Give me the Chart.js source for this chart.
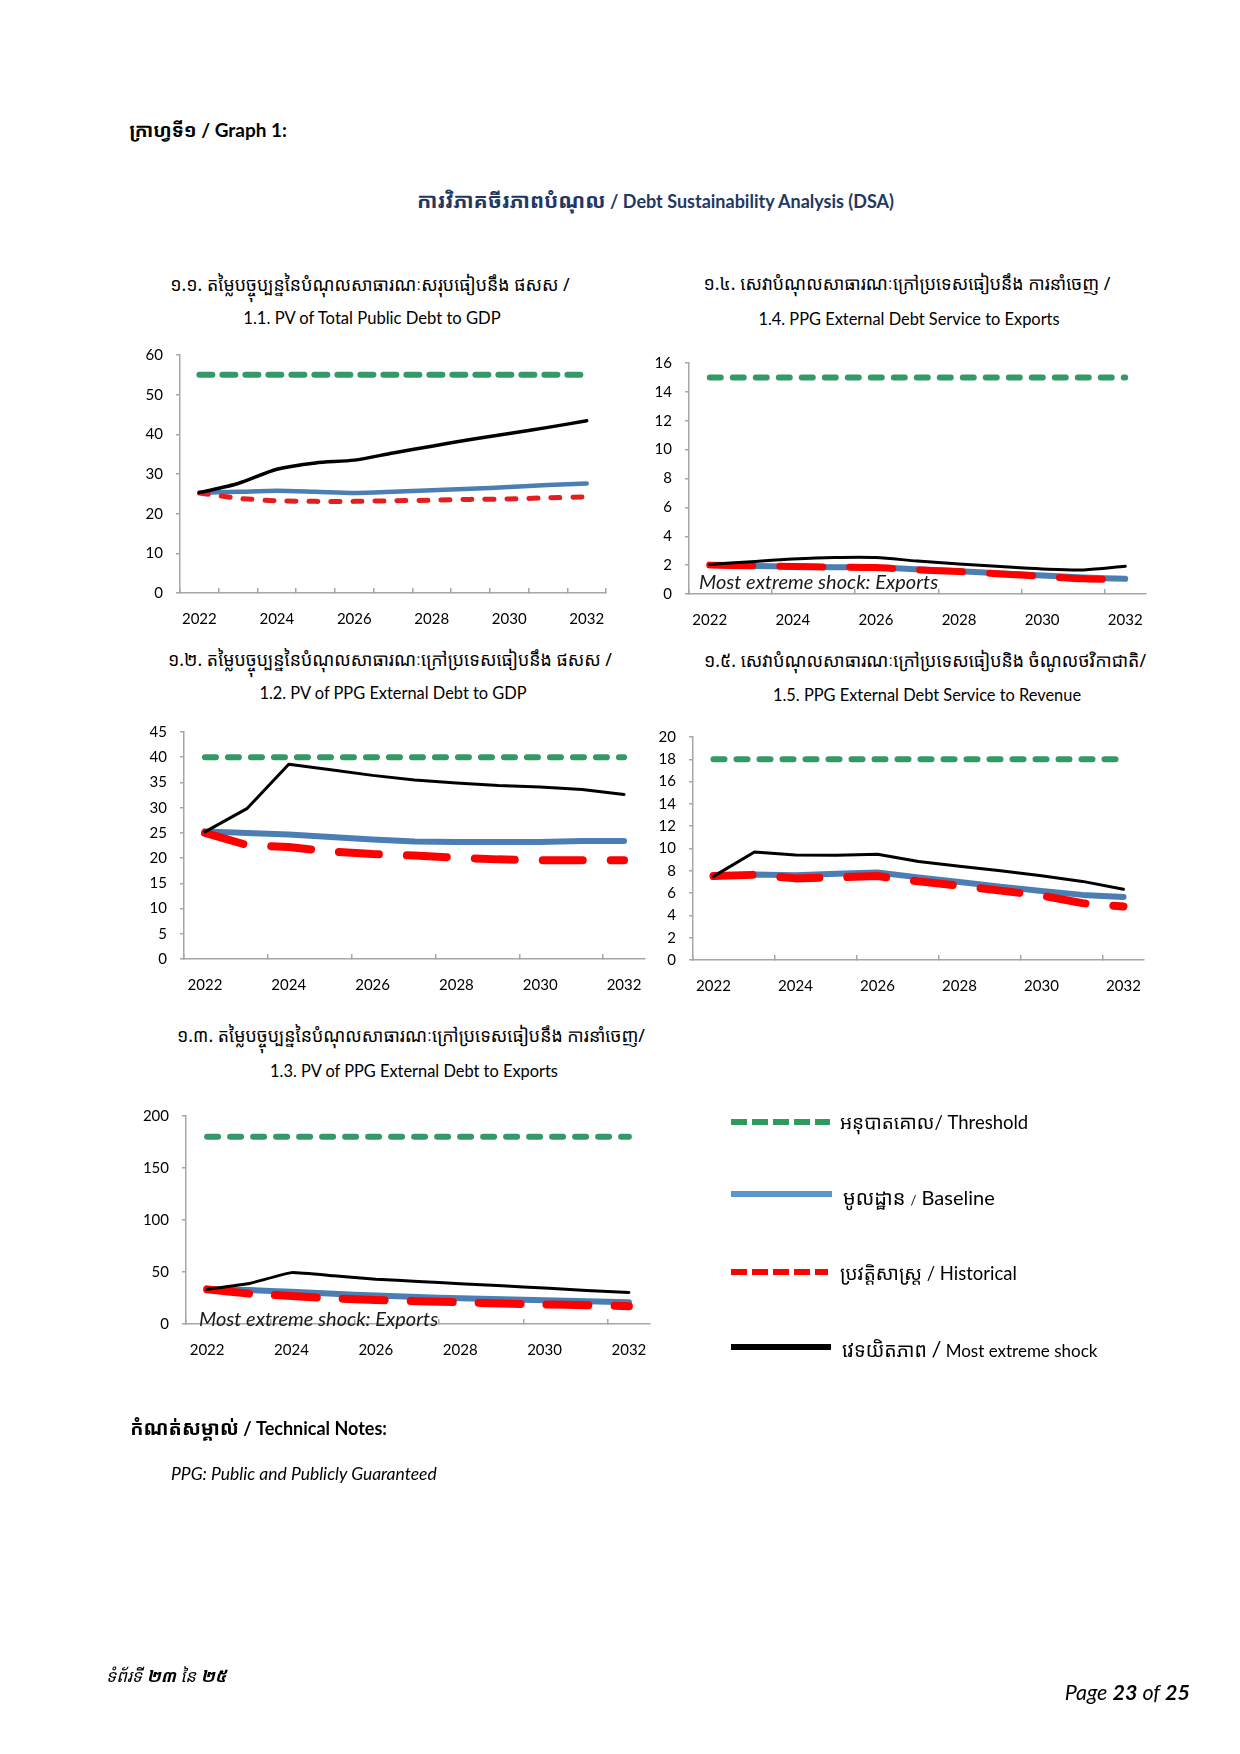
<!DOCTYPE html>
<html><head><meta charset="utf-8">
<script src="https://cdn.jsdelivr.net/npm/chart.js@4.4.1/dist/chart.umd.min.js"></script>
<style>
body{margin:0;background:#fff;}
#page{position:relative;width:1240px;height:1754px;background:#fff;font-family:Lato,'Noto Sans',sans-serif;color:#000;overflow:hidden;}
.t{position:absolute;white-space:nowrap;line-height:1.2;}
.c{transform:translate(-50%,-50%);}
.l{transform:translateY(-50%);}
canvas{position:absolute;}
.ann{position:absolute;white-space:nowrap;font-style:italic;font-size:20px;color:#1a1a1a;transform:translateY(-50%);z-index:5;line-height:1.2;}
.km{font-family:'Noto Sans Khmer','Khmer OS','Noto Sans',Lato,sans-serif;}
svg{position:absolute;overflow:visible;}
</style></head><body><div id="page">

<div class="t l" style="right:953px;top:130px;font-weight:bold;font-size:19px;"><span class="km">ក្រាហ្វទី១</span> / Graph 1:</div>
<div class="t l" style="right:346px;top:201px;font-weight:bold;font-size:18px;color:#1f3864;"><span class="km" style="font-size:21px;">ការវិភាគចីរភាពបំណុល</span> / Debt Sustainability Analysis (DSA)</div>

<div class="t c km" style="left:370px;top:285px;font-size:17.8px;">១.១. តម្លៃបច្ចុប្បន្ននៃបំណុលសាធារណៈសរុបធៀបនឹង ផសស /</div>
<div class="t c" style="left:372px;top:319px;font-size:16.6px;">1.1. PV of Total Public Debt to GDP</div>

<div class="t c km" style="left:907px;top:284px;font-size:17.8px;">១.៤. សេវាបំណុលសាធារណៈក្រៅប្រទេសធៀបនឹង ការនាំចេញ /</div>
<div class="t c" style="left:909px;top:319px;font-size:16.4px;">1.4. PPG External Debt Service to Exports</div>

<div class="t c km" style="left:390px;top:660px;font-size:17.8px;">១.២. តម្លៃបច្ចុប្បន្ននៃបំណុលសាធារណៈក្រៅប្រទេសធៀបនឹង ផសស /</div>
<div class="t c" style="left:393px;top:693px;font-size:16.4px;">1.2. PV of PPG External Debt to GDP</div>

<div class="t c km" style="left:925px;top:661px;font-size:17.8px;">១.៥. សេវាបំណុលសាធារណៈក្រៅប្រទេសធៀបនិង ចំណូលថវិកាជាតិ/</div>
<div class="t c" style="left:927px;top:695px;font-size:16.4px;">1.5. PPG External Debt Service to Revenue</div>

<div class="t c km" style="left:411px;top:1036px;font-size:17.8px;">១.៣. តម្លៃបច្ចុប្បន្ននៃបំណុលសាធារណៈក្រៅប្រទេសធៀបនឹង ការនាំចេញ/</div>
<div class="t c" style="left:414px;top:1071px;font-size:16.4px;">1.3. PV of PPG External Debt to Exports</div>

<canvas id="c11"></canvas>
<canvas id="c14"></canvas>
<canvas id="c12"></canvas>
<canvas id="c15"></canvas>
<canvas id="c13"></canvas>

<div class="ann" style="left:699px;top:581px;">Most extreme shock: Exports</div>
<div class="ann" style="left:199px;top:1318px;">Most extreme shock: Exports</div>

<svg style="left:0;top:0;width:1240px;height:1754px;">
  <line x1="731" y1="1122" x2="830" y2="1122" stroke="#2e9a5e" stroke-width="6" stroke-dasharray="16 5"/>
  <line x1="731" y1="1194" x2="832" y2="1194" stroke="#5b96cf" stroke-width="6"/>
  <line x1="731" y1="1272" x2="828" y2="1272" stroke="#ff0000" stroke-width="6" stroke-dasharray="16 5"/>
  <line x1="731" y1="1347" x2="831" y2="1347" stroke="#000" stroke-width="6"/>
</svg>
<div class="t l" style="left:840px;top:1122px;font-size:18.5px;"><span class="km" style="font-size:19px;">អនុបាតគោល</span>/ Threshold</div>
<div class="t l" style="left:843px;top:1197px;font-size:20px;"><span class="km">មូលដ្ឋាន</span> <span style="font-size:13px;">/</span> Baseline</div>
<div class="t l" style="left:840px;top:1273px;font-size:18.5px;"><span class="km" style="font-size:19px;">ប្រវត្តិសាស្ត្រ</span> / Historical</div>
<div class="t l" style="left:842px;top:1349px;font-size:17px;"><span class="km" style="font-size:19.5px;">វេទយិតភាព</span> <span style="font-size:22px;">/</span> Most extreme shock</div>

<div class="t l" style="right:853px;top:1428px;font-weight:bold;font-size:18px;"><span class="km" style="font-size:19.5px;">កំណត់សម្គាល់</span> / Technical Notes:</div>
<div class="t l" style="left:171px;top:1473px;font-style:italic;font-size:17.5px;">PPG: Public and Publicly Guaranteed</div>

<div class="t l km" style="left:106px;top:1676px;font-style:italic;font-size:17px;">ទំព័រទី <b>២៣</b> នៃ <b>២៥</b></div>
<div class="t l" style="right:50px;top:1693px;font-style:italic;font-size:21.5px;">Page <b>23</b> of <b>25</b></div>

</div>
<script>
// ---------- data ----------
const years = ['2022','2023','2024','2025','2026','2027','2028','2029','2030','2031','2032'];

// 1.1 PV of Total Public Debt to GDP
const threshold11  = [55,55,55,55,55,55,55,55,55,55,55];
const baseline11   = [25.3,25.5,25.75,25.5,25.2,25.5,25.9,26.3,26.7,27.2,27.6];
const historical11 = [25.2,23.9,23.25,23.1,23.1,23.25,23.4,23.6,23.7,24.0,24.25];
const shock11      = [25.3,27.6,31.2,32.8,33.5,35.3,37.0,38.7,40.2,41.75,43.4];
const yTicks11 = {max:60, step:10};

// 1.4 PPG External Debt Service to Exports
const threshold14  = [15,15,15,15,15,15,15,15,15,15,15];
const baseline14   = [2.0,1.94,1.9,1.85,1.83,1.71,1.58,1.42,1.28,1.14,1.05];
const historical14 = [2.0,1.96,1.9,1.87,1.83,1.67,1.55,1.39,1.23,1.05,1.0];
const shock14      = [2.05,2.24,2.42,2.53,2.53,2.28,2.08,1.9,1.74,1.67,1.92];
const yTicks14 = {max:16, step:2};

// 1.2 PV of PPG External Debt to GDP
const threshold12  = [40,40,40,40,40,40,40,40,40,40,40];
const baseline12   = [25.3,25.0,24.7,24.2,23.7,23.3,23.2,23.2,23.2,23.4,23.4];
const historical12 = [25.0,22.6,22.2,21.3,20.8,20.5,20.1,19.75,19.6,19.6,19.6];
const shock12      = [25.2,29.8,38.6,37.5,36.4,35.5,34.9,34.4,34.1,33.6,32.6];
const yTicks12 = {max:45, step:5};

// 1.5 PPG External Debt Service to Revenue
const threshold15  = [18,18,18,18,18,18,18,18,18,18,18];
const baseline15   = [7.55,7.67,7.61,7.73,7.85,7.41,6.99,6.58,6.19,5.84,5.66];
const historical15 = [7.53,7.64,7.32,7.41,7.53,7.05,6.67,6.22,5.78,5.1,4.8];
const shock15      = [7.5,9.69,9.42,9.39,9.48,8.83,8.41,8.0,7.56,7.05,6.34];
const yTicks15 = {max:20, step:2};

// 1.3 PV of PPG External Debt to Exports
const threshold13  = [180,180,180,180,180,180,180,180,180,180,180];
const baseline13   = [33,32.6,31,29.2,27.3,26,24.7,23.8,22.8,21.9,20.9];
const historical13 = [33.3,29.2,26.9,24.7,23.1,21.9,20.9,19.7,18.7,18.1,17.1];
const shock13      = [33.3,39,49.4,46.3,43.1,40.9,38.7,36.8,34.5,32.3,30.4];
const yTicks13 = {max:200, step:50};

// ---------- layout & style ----------
const AXIS = '#a6a6a6';
const GREEN = '#339966', BLUE = '#4b7fb3', RED = '#ff0000', BLACK = '#000000';
const PADL = 60, PADT = 20, PADR = 20, XH = 45;

const layouts = {
  c11:{l:180,t:353,r:607,b:593, every:1, tension:0.25,
       w:{g:6,b:4.5,r:5,k:3.5}, gDash:[13,10], rDash:[9,13], red:'#e41e1e'},
  c14:{l:689,t:361,r:1146,b:594, every:2, tension:0.3,
       w:{g:6,b:6,r:7,k:3}, gDash:[11,12], rDash:[43,27], red:RED},
  c12:{l:184,t:730,r:645,b:959, every:2, tension:0,
       w:{g:6,b:6,r:8,k:3}, gDash:[11,12], rDash:[40,28], red:RED},
  c15:{l:693,t:735,r:1144,b:960, every:2, tension:0,
       w:{g:6,b:6,r:8,k:3}, gDash:[11,12], rDash:[39,28], red:RED},
  c13:{l:186,t:1114,r:650,b:1324, every:2, tension:0.1,
       w:{g:6,b:6,r:8,k:3}, gDash:[11,12], rDash:[42,26], red:RED}
};

function build(id, thr, base, hist, shock, yt){
  const L = layouts[id];
  const cv = document.getElementById(id);
  const W = (L.r - L.l) + PADL + PADR;
  const H = (L.b - L.t) + PADT + XH;
  cv.width = W; cv.height = H;
  cv.style.width = W + 'px'; cv.style.height = H + 'px';
  cv.style.left = (L.l - PADL) + 'px';
  cv.style.top = (L.t - PADT) + 'px';
  const font = {family:'Lato', size:15};
  new Chart(cv, {
    type:'line',
    data:{labels:years, datasets:[
      {data:thr, borderColor:GREEN, borderWidth:L.w.g, borderDash:L.gDash, borderCapStyle:'round', tension:0},
      {data:shock, borderColor:BLACK, borderWidth:L.w.k, borderCapStyle:'round', borderJoinStyle:'round', tension:L.tension},
      {data:hist, borderColor:L.red, borderWidth:L.w.r, borderDash:L.rDash, borderCapStyle:'round', borderJoinStyle:'round', tension:L.tension},
      {data:base, borderColor:BLUE, borderWidth:L.w.b, borderCapStyle:'round', borderJoinStyle:'round', tension:L.tension}
    ]},
    options:{
      responsive:false, animation:false, devicePixelRatio:1,
      layout:{padding:{left:0, top:PADT, right:PADR, bottom:0}},
      elements:{point:{radius:0, hoverRadius:0}, line:{fill:false}},
      plugins:{legend:{display:false}, tooltip:{enabled:false}, title:{display:false}},
      events:[],
      scales:{
        x:{type:'category', offset:true,
           border:{display:true, color:AXIS, width:1.5},
           grid:{display:true, drawOnChartArea:false, drawTicks:true, tickLength:-5, offset:true, lineWidth:1.5,
                 color:(c)=> (c.index === undefined ? L.every === 1 : c.index % L.every === 0) ? AXIS : 'rgba(0,0,0,0)'},
           ticks:{autoSkip:false, maxRotation:0, minRotation:0, padding:22, color:'#000', font,
                  callback:function(v,i){ return i % 2 === 0 ? this.getLabelForValue(v) : ''; }},
           afterFit:(s)=>{ s.height = XH; }},
        y:{min:0, max:yt.max,
           border:{display:true, color:AXIS, width:1.5},
           grid:{display:true, drawOnChartArea:false, drawTicks:true, tickLength:4, color:AXIS, lineWidth:1.5},
           ticks:{stepSize:yt.step, padding:13, color:'#000', font},
           afterFit:(s)=>{ s.width = PADL; }}
      }
    }
  });
}

build('c11', threshold11, baseline11, historical11, shock11, yTicks11);
build('c14', threshold14, baseline14, historical14, shock14, yTicks14);
build('c12', threshold12, baseline12, historical12, shock12, yTicks12);
build('c15', threshold15, baseline15, historical15, shock15, yTicks15);
build('c13', threshold13, baseline13, historical13, shock13, yTicks13);
</script>
</body></html>
